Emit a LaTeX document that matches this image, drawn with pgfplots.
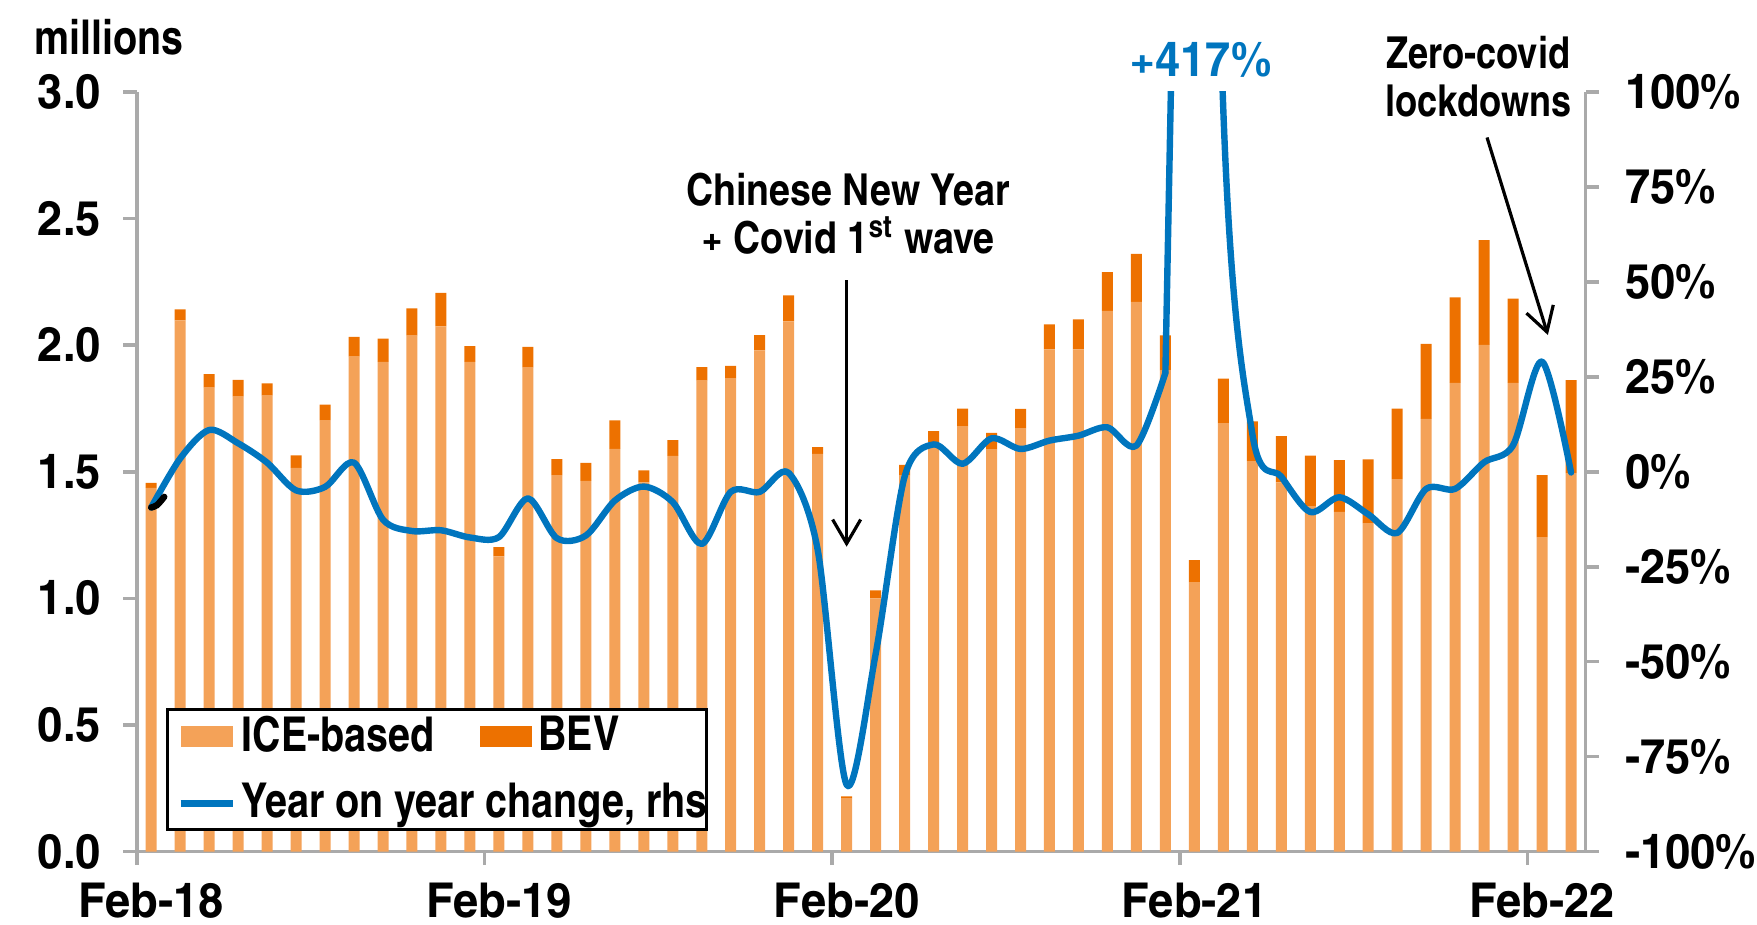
\documentclass[border=0pt]{standalone}
\usepackage{fontspec}
\setmainfont{texgyreheroscn}[Extension=.otf, UprightFont=*-regular, BoldFont=*-bold, ItalicFont=*-italic, BoldItalicFont=*-bolditalic]
\newfontfamily\tickfamily{texgyreheroscn}[Extension=.otf, UprightFont=*-bold, FakeStretch=1.15]
\newfontfamily\annfamily{texgyreheroscn}[Extension=.otf, UprightFont=*-bold, FakeStretch=1.04]
\usepackage{pgfplots}
\usepackage{pgfplotstable}
\pgfplotsset{compat=1.18}
\usetikzlibrary{arrows.meta}
\definecolor{ice}{RGB}{244,162,88}
\definecolor{bev}{RGB}{237,113,0}
\definecolor{lineblue}{RGB}{0,117,190}
\definecolor{axgray}{RGB}{170,170,170}

\pgfplotstableread{
x ice bev yoy
0.5 1.436 0.020 -9.4
1.5 2.098 0.043 3.5
2.5 1.832 0.054 11.0
3.5 1.797 0.066 7.5
4.5 1.801 0.048 2.4
5.5 1.515 0.050 -4.9
6.5 1.704 0.061 -4.0
7.5 1.955 0.078 2.4
8.5 1.934 0.092 -12.6
9.5 2.038 0.107 -15.6
10.5 2.074 0.132 -15.4
11.5 1.934 0.062 -17.3
12.5 1.166 0.036 -17.2
13.5 1.911 0.082 -7.0
14.5 1.487 0.063 -17.5
15.5 1.464 0.071 -16.8
16.5 1.590 0.113 -7.6
17.5 1.458 0.047 -3.9
18.5 1.563 0.062 -8.0
19.5 1.860 0.053 -19.0
20.5 1.868 0.050 -5.3
21.5 1.979 0.061 -5.3
22.5 2.094 0.102 -0.3
23.5 1.571 0.026 -20.5
24.5 0.209 0.009 -82.4
25.5 1.000 0.032 -48.0
26.5 1.485 0.042 -1.3
27.5 1.617 0.043 7.2
28.5 1.678 0.071 2.1
29.5 1.587 0.067 8.8
30.5 1.670 0.078 6.0
31.5 1.983 0.099 8.2
32.5 1.983 0.119 9.5
33.5 2.135 0.153 11.7
34.5 2.171 0.189 6.9
35.5 1.899 0.140 26.0
36.5 1.064 0.087 417
37.5 1.692 0.176 95
38.5 1.542 0.157 10
39.5 1.458 0.183 -1.3
40.5 1.364 0.200 -10.6
41.5 1.342 0.204 -6.7
42.5 1.297 0.252 -11.2
43.5 1.471 0.278 -16.1
44.5 1.709 0.296 -4.5
45.5 1.851 0.338 -4.5
46.5 2.001 0.414 2.5
47.5 1.851 0.333 7.0
48.5 1.242 0.245 29.0
49.5 1.495 0.367 -0.2
}\data

\newcommand{\tfont}{\fontsize{12}{14}\selectfont\tickfamily}
\newcommand{\lfont}{\fontsize{12}{14}\selectfont\bfseries}
\newcommand{\afont}{\fontsize{11}{13}\selectfont\annfamily}

\pgfplotsset{
  common/.style={
    scale only axis, width=362.04pt, height=189.84pt,
    xmin=0, xmax=50,
    clip mode=individual,
    axis line style={axgray, line width=0.9pt},
    every tick/.style={axgray, line width=0.9pt},
    tick align=outside, major tick length=3.4pt,
    tick label style={font=\tfont, text=black},
    /pgf/number format/assume math mode=true,
  }
}

\begin{document}
\begin{tikzpicture}
\begin{axis}[common,
  name=main,
  ymin=0, ymax=3,
  axis y line*=left, axis x line*=bottom,
  xtick={0,12,24,36,48},
  xticklabels={Feb-18,Feb-19,Feb-20,Feb-21,Feb-22},
  xticklabel style={xshift=3.62pt, yshift=-3.8pt, inner sep=0.5pt},
  ytick={0,0.5,...,3},
  yticklabel style={/pgf/number format/.cd, fixed, fixed zerofill, precision=1, /tikz/.cd, xshift=-2pt},
  ybar stacked, bar width=0.38,
  legend columns=2,
  legend cell align=left,
  legend style={at={(0.0201,0.1888)}, anchor=north west, draw=black, line width=0.8pt,
    font=\lfont, inner xsep=2.5pt, inner ysep=0pt, row sep=3.5pt,
    /tikz/every even column/.append style={column sep=10pt},
    nodes={inner sep=1.5pt}},
]
\addplot[fill=ice, draw=none, legend image code/.code={\fill[ice] (0pt,-2.6pt) rectangle (13pt,2.6pt);}] table[x=x, y=ice]{\data};
\addlegendentry{ICE-based}
\addplot[fill=bev, draw=none, legend image code/.code={\fill[bev] (0pt,-2.6pt) rectangle (13pt,2.6pt);}] table[x=x, y=bev]{\data};
\addlegendentry{\makebox[38pt][l]{BEV}}
\addlegendimage{legend image code/.code={\draw[lineblue, line width=1.6pt] (0pt,0pt) -- (13pt,0pt);}}
\addlegendentry{\makebox[0pt][l]{Year on year change, rhs}}

\coordinate (ll) at (rel axis cs:0,0);
\node[anchor=west, font=\lfont] at (rel axis cs:-0.0805,1.072) {millions};
\node[align=center, font=\afont] at (axis cs:24.55,2.52) {Chinese New Year\\[-1pt]+ Covid 1\textsuperscript{st} wave};
\draw[black, line width=0.8pt, -{Straight Barb[length=6pt, width=7pt, line width=0.8pt]}] (axis cs:24.5,2.257) -- (axis cs:24.5,1.204);
\node[font=\tfont, text=lineblue] at (axis cs:36.7,3.125) {+417\%};
\node[align=center, font=\fontsize{11}{13}\selectfont\bfseries] at (axis cs:46.3,3.06) {Zero-covid\\[-1pt]lockdowns};
\draw[black, line width=0.8pt, -{Straight Barb[length=6pt, width=7pt, line width=0.8pt]}] (axis cs:46.6,2.82) -- (axis cs:48.7,2.04);
\end{axis}

\begin{axis}[common,
  ymin=-100, ymax=100,
  axis y line*=right, axis x line=none,
  ytick={-100,-75,...,100},
  yticklabel={\pgfmathprintnumber{\tick}\%},
  yticklabel style={xshift=3pt},
]
\addplot[lineblue, line width=1.6pt, smooth, line join=round, line cap=round] table[x=x, y=yoy, restrict x to domain=0:36]{\data};
\addplot[lineblue, line width=1.6pt, line join=round, line cap=round] table[x=x, y=yoy, restrict x to domain=35:37]{\data};
\addplot[lineblue, line width=1.6pt, smooth, line join=round, line cap=round] table[x=x, y=yoy, restrict x to domain=36:50]{\data};
\addplot[black, line width=1.6pt, smooth, line cap=round] coordinates {(0.5,-9.4) (0.7,-8.8) (0.95,-6.6)};
\end{axis}

\pgfresetboundingbox
\path (ll) ++(-34.16pt,-18.2pt) rectangle ++(439.04pt,231pt);
\end{tikzpicture}
\end{document}
